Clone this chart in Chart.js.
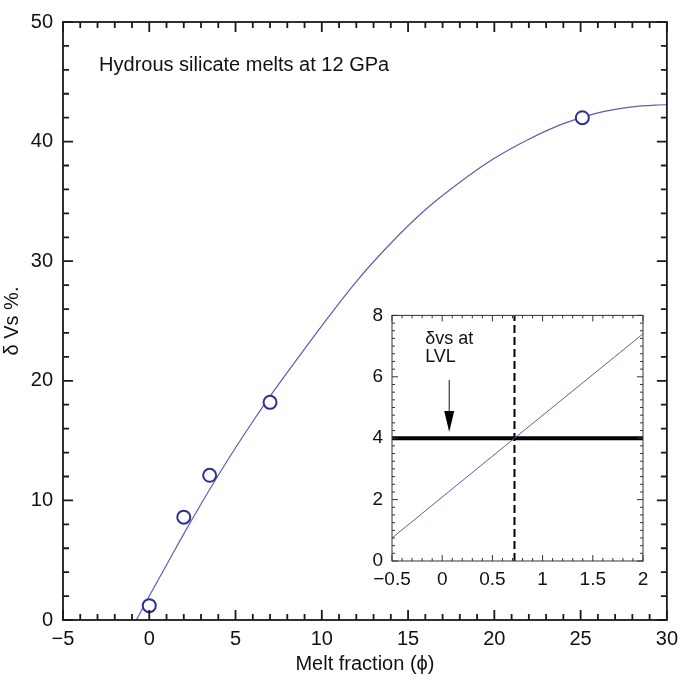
<!DOCTYPE html>
<html><head><meta charset="utf-8">
<script src="https://cdn.jsdelivr.net/npm/chart.js@4"></script>
<style>
body{margin:0;background:#fff;}
#wrap{position:relative;width:685px;height:679px;background:#fff;}
#main{position:absolute;left:0;top:0;}
#inset{position:absolute;left:350px;top:295px;}
</style></head><body>
<div id="wrap"><canvas id="main" width="685" height="679"></canvas><canvas id="inset" width="310" height="300"></canvas></div>
<script>
// ---- data ----
const meltX = [0, 2, 3.5, 7, 25.1];
const dVs = [1.2, 8.6, 12.1, 18.2, 42.0];
const fitX = [-0.75, 0, 1, 2, 3, 4, 5, 6, 7, 8, 10, 12, 14, 16, 18, 20, 22, 24, 26, 28, 30];
const fitY = [0, 2.0, 4.6, 7.2, 9.7, 12.1, 14.4, 16.6, 18.7, 20.7, 24.6, 28.3, 31.5, 34.3, 36.6, 38.6, 40.2, 41.5, 42.4, 42.9, 43.1];
const xTicksMain = [-5, 0, 5, 10, 15, 20, 25, 30];
const yTicksMain = [0, 10, 20, 30, 40, 50];

const insetLineX = [-0.5, 0.72, 2];
const insetLineY = [0.75, 4.0, 7.4];
const lvlValue = 4;
const crossX = 0.72;
const arrowX = [0.07, 0.07];
const arrowY = [5.9, 4.2];
const xTicksInset = [-0.5, 0, 0.5, 1, 1.5, 2];
const yTicksInset = [0, 2, 4, 6, 8];

const FONT = "'Liberation Sans', Arial, 'DejaVu Sans', sans-serif";
const fmt = v => String(v).replace('-', '\u2212');
const pairs = (xs, ys) => xs.map((x, i) => ({x, y: ys[i]}));

const frameTicks = {
  id: 'frameTicks',
  afterDatasetsDraw(chart, args, o) {
    const {ctx, chartArea: a} = chart;
    const xs = chart.scales.x, ys = chart.scales.y;
    const near = (v, arr) => arr.some(t => Math.abs(t - v) < 1e-6);
    ctx.save();
    ctx.strokeStyle = o.color; ctx.lineWidth = o.width;
    ctx.beginPath();
    for (let i = 0; ; i++) {
      const v = xs.min + i * o.xMinor;
      if (v > xs.max + 1e-9) break;
      const len = near(v, o.xMajor) ? o.major : o.minor;
      const p = xs.getPixelForValue(v);
      ctx.moveTo(p, a.bottom); ctx.lineTo(p, a.bottom - len);
      ctx.moveTo(p, a.top); ctx.lineTo(p, a.top + len);
    }
    for (let i = 0; ; i++) {
      const v = ys.min + i * o.yMinor;
      if (v > ys.max + 1e-9) break;
      const len = near(v, o.yMajor) ? o.major : o.minor;
      const p = ys.getPixelForValue(v);
      ctx.moveTo(a.left, p); ctx.lineTo(a.left + len, p);
      ctx.moveTo(a.right, p); ctx.lineTo(a.right - len, p);
    }
    ctx.stroke();
    ctx.strokeRect(a.left, a.top, a.right - a.left, a.bottom - a.top);
    ctx.restore();
  }
};

const notes = {
  id: 'notes',
  afterDatasetsDraw(chart, args, o) {
    const {ctx} = chart;
    const xs = chart.scales.x, ys = chart.scales.y;
    ctx.save();
    ctx.fillStyle = '#111';
    ctx.textBaseline = 'alphabetic';
    ctx.textAlign = 'left';
    (o.items || []).forEach(it => {
      ctx.font = it.font;
      ctx.fillText(it.text, xs.getPixelForValue(it.x), ys.getPixelForValue(it.y));
    });
    if (o.arrow) {
      const x0 = xs.getPixelForValue(o.arrow.x[0]), y0 = ys.getPixelForValue(o.arrow.y[0]);
      const x1 = xs.getPixelForValue(o.arrow.x[1]), y1 = ys.getPixelForValue(o.arrow.y[1]);
      ctx.strokeStyle = '#111'; ctx.lineWidth = 1;
      ctx.beginPath(); ctx.moveTo(x0, y0); ctx.lineTo(x1, y1 - 18); ctx.stroke();
      ctx.fillStyle = '#000';
      ctx.beginPath();
      ctx.moveTo(x1, y1); ctx.lineTo(x1 - 5, y1 - 21); ctx.lineTo(x1 + 5, y1 - 21); ctx.closePath();
      ctx.fill();
    }
    ctx.restore();
  }
};

Chart.defaults.font.family = FONT;
Chart.defaults.color = '#111';

new Chart(document.getElementById('main'), {
  type: 'scatter',
  data: {
    datasets: [
      {data: pairs(meltX, dVs), showLine: false, pointRadius: 6.5, pointBorderWidth: 2,
       borderColor: '#2e3192', backgroundColor: '#ffffff', pointStyle: 'circle'},
      {data: pairs(fitX, fitY), showLine: true, pointRadius: 0, borderWidth: 1.2,
       borderColor: '#5a5fb0', cubicInterpolationMode: 'monotone'}
    ]
  },
  options: {
    responsive: false, animation: false, events: [], devicePixelRatio: 1,
    layout: {padding: {left: 0, top: 8, right: 17, bottom: 0}},
    plugins: {
      legend: {display: false}, tooltip: {enabled: false},
      frameTicks: {color: '#1a1a1a', width: 1.8, xMinor: 1, yMinor: 2, xMajor: xTicksMain, yMajor: yTicksMain, major: 10, minor: 6},
      notes: {items: [{x: -2.91, y: 45.9, text: 'Hydrous silicate melts at 12 GPa', font: '20px ' + FONT}]}
    },
    scales: {
      x: {
        type: 'linear', min: -5, max: 30,
        afterBuildTicks: s => { s.ticks = xTicksMain.map(v => ({value: v})); },
        afterFit: s => { s.height = 59; },
        grid: {display: false, drawTicks: false}, border: {display: false},
        ticks: {font: {size: 20}, color: '#111', padding: 7, maxRotation: 0, autoSkip: false, callback: v => fmt(v)},
        title: {display: true, text: 'Melt fraction (\u03D5)', font: {size: 20}, color: '#111', padding: {top: 0, bottom: 3}}
      },
      y: {
        type: 'linear', min: 0, max: 50,
        afterBuildTicks: s => { s.ticks = yTicksMain.map(v => ({value: v})); },
        afterFit: s => { s.width = 63; },
        grid: {display: false, drawTicks: false}, border: {display: false},
        ticks: {font: {size: 20}, color: '#111', padding: 10, autoSkip: false, callback: v => fmt(v)},
        title: {display: true, text: '\u03B4 Vs %.', font: {size: 20}, color: '#111', padding: {top: 0, bottom: 0}}
      }
    }
  },
  plugins: [frameTicks, notes]
});

new Chart(document.getElementById('inset'), {
  type: 'scatter',
  data: {
    datasets: [
      {data: pairs(insetLineX, insetLineY), showLine: true, pointRadius: 0, borderWidth: 1, borderColor: '#5a5fb0'},
      {data: [{x: xTicksInset[0], y: lvlValue}, {x: xTicksInset[xTicksInset.length - 1], y: lvlValue}],
       showLine: true, pointRadius: 0, borderWidth: 4, borderColor: '#000'},
      {data: [{x: crossX, y: yTicksInset[0]}, {x: crossX, y: yTicksInset[yTicksInset.length - 1]}],
       showLine: true, pointRadius: 0, borderWidth: 2, borderColor: '#000', borderDash: [8, 4]}
    ]
  },
  options: {
    responsive: false, animation: false, events: [], devicePixelRatio: 1,
    layout: {padding: {left: 0, top: 14, right: 17, bottom: 0}},
    plugins: {
      legend: {display: false}, tooltip: {enabled: false},
      frameTicks: {color: '#333', width: 1, xMinor: 0.1, yMinor: 0.25, xMajor: xTicksInset, yMajor: yTicksInset, major: 6, minor: 3},
      notes: {
        items: [
          {x: -0.17, y: 7.08, text: '\u03B4vs at', font: '18px ' + FONT},
          {x: -0.17, y: 6.48, text: 'LVL', font: '18px ' + FONT}
        ],
        arrow: {x: arrowX, y: arrowY}
      }
    },
    scales: {
      x: {
        type: 'linear', min: -0.5, max: 2,
        afterBuildTicks: s => { s.ticks = xTicksInset.map(v => ({value: v})); },
        afterFit: s => { s.height = 34; },
        grid: {display: false, drawTicks: false}, border: {display: false},
        ticks: {font: {size: 19}, color: '#111', padding: 7, maxRotation: 0, autoSkip: false, callback: v => fmt(v)}
      },
      y: {
        type: 'linear', min: 0, max: 8,
        afterBuildTicks: s => { s.ticks = yTicksInset.map(v => ({value: v})); },
        afterFit: s => { s.width = 42; },
        grid: {display: false, drawTicks: false}, border: {display: false},
        ticks: {font: {size: 19}, color: '#111', padding: 9, autoSkip: false, callback: v => fmt(v)}
      }
    }
  },
  plugins: [frameTicks, notes]
});
</script>
</body></html>
